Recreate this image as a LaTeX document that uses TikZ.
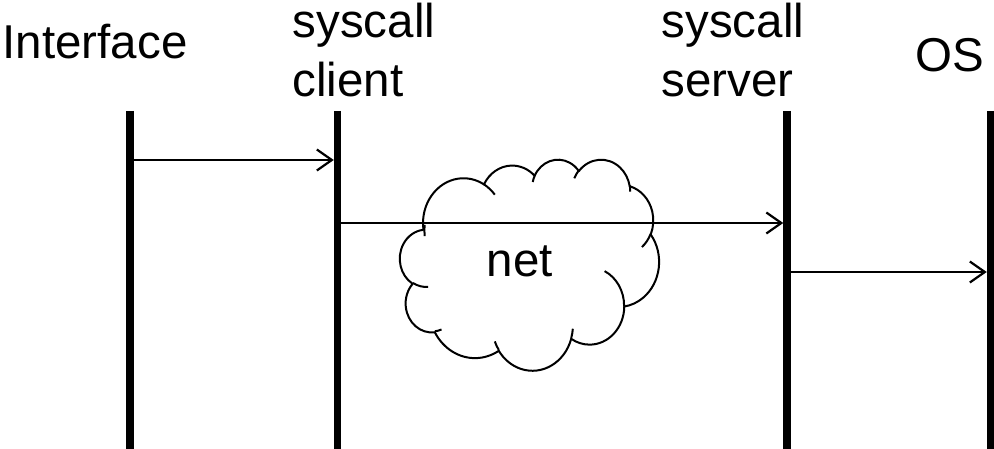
\documentclass[tikz,border=0pt]{standalone}
\usepackage{fontspec}
\setmainfont{Liberation Sans}
\usetikzlibrary{arrows.meta}
% OOXML arcTo (visual angles) -> TikZ parametric arc
\newcommand\ooarc[4]{arc[x radius=#1, y radius=#2,
  start angle={atan2(#1*sin(#3),#2*cos(#3))},
  delta angle={mod(atan2(#1*sin(#3+#4),#2*cos(#3+#4))-atan2(#1*sin(#3),#2*cos(#3))+720,360)}]}
\begin{document}
\begin{tikzpicture}[x=1pt,y=-1pt,
  life/.style={line width=7.5pt},
  msg/.style={line width=2.2pt,-{Straight Barb[length=15pt,width=21pt]}},
  lbl/.style={font=\fontsize{47.5}{57}\selectfont, inner sep=0pt, anchor=base west},
  cloudline/.style={line width=2pt, line join=round}]
\useasboundingbox (0,0) rectangle (994,449);

% labels
\node[lbl] (iface) at (2.5,59) {Interface};
\node[lbl] (cli1) at (292.5,38) {syscall};
\node[lbl] (cli2) at (292.5,97) {client};
\node[lbl] (srv1) at (661.5,38) {syscall};
\node[lbl] (srv2) at (661.5,97) {server};
\node[lbl] (os) at (915.7,72) {OS};

% lifelines
\coordinate (ifT) at (130,111);   \coordinate (ifB) at (130,449);
\coordinate (clT) at (337.5,111); \coordinate (clB) at (337.5,449);
\coordinate (svT) at (787,111);   \coordinate (svB) at (787,449);
\coordinate (osT) at (990.5,111); \coordinate (osB) at (990.5,449);
\draw[life] (ifT) -- (ifB);
\draw[life] (clT) -- (clB);
\draw[life] (svT) -- (svB);
\draw[life] (osT) -- (osB);

% cloud
\begin{scope}[shift={(400,159)}, x=0.59954pt, y=-0.48843pt]
\draw[cloudline, fill=white] (39.00,143.70)
  \ooarc{67.53}{91.90}{-190.48748}{123.78053}
  \ooarc{53.33}{72.67}{-144.10238}{89.94523}
  \ooarc{43.65}{59.45}{-145.80792}{99.72302}
  \ooarc{48.57}{65.95}{-130.98607}{117.24173}
  \ooarc{53.33}{72.73}{-78.70888}{109.02692}
  \ooarc{67.75}{92.20}{-46.26725}{130.26900}
  \ooarc{57.85}{78.67}{0.62502}{114.03333}
  \ooarc{67.52}{92.15}{22.45160}{115.17255}
  \ooarc{77.20}{105.43}{66.24263}{75.71102}
  \ooarc{43.60}{59.18}{-274.94208}{146.73557}
  \ooarc{43.45}{59.45}{-246.82850}{152.51885}
  -- cycle;
\end{scope}

% messages
\coordinate (m1s) at (133.75,160); \coordinate (m1e) at (333.75,160);
\coordinate (m2s) at (341.25,223); \coordinate (m2e) at (783.25,223);
\coordinate (m3s) at (790.75,272); \coordinate (m3e) at (986.75,272);
\draw[msg] (m1s) -- (m1e);
\draw[msg] (m2s) -- (m2e);
\draw[msg] (m3s) -- (m3e);

% cloud inner strokes
\begin{scope}[shift={(400,159)}, x=0.59954pt, y=-0.48843pt]
\draw[cloudline]
  (46.93,261.77) \ooarc{43.45}{59.45}{86.74200}{26.42950}
  (69.28,348.99) \ooarc{43.60}{59.18}{73.61047}{11.44747}
  (164.78,390.90) \ooarc{67.52}{92.15}{137.62415}{14.08110}
  (288.27,347.51) \ooarc{67.52}{92.15}{6.45327}{15.99835}
  (341.29,229.54) \ooarc{57.85}{78.67}{-70.29235}{70.91737}
  (417.98,153.54) \ooarc{53.33}{72.73}{30.31803}{27.75150}
  (383.24,54.26) \ooarc{48.57}{65.95}{-13.74433}{14.85890}
  (290.78,39.52) \ooarc{48.57}{65.95}{-149.18145}{18.19537}
  (221.41,47.20) \ooarc{43.65}{59.45}{-163.49427}{17.68635}
  (140.00,51.92) \ooarc{67.53}{91.90}{-66.70695}{18.60390}
  (41.27,157.89) \ooarc{67.53}{91.90}{-190.48748}{19.38417};
\end{scope}

\node[lbl, anchor=base] (net) at (520,277) {net};
\end{tikzpicture}
\end{document}
